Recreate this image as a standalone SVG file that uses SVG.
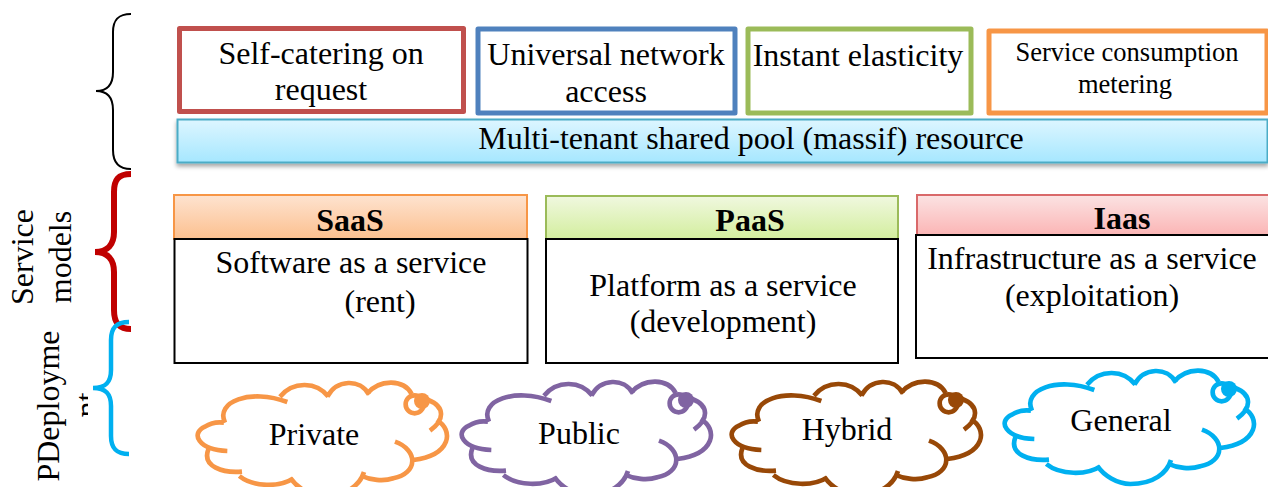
<svg xmlns="http://www.w3.org/2000/svg" width="1268" height="487" viewBox="0 0 1268 487">
<style>
text{font-family:"Liberation Serif","Times New Roman",serif;font-size:32px;fill:#000;text-anchor:middle}
.box{fill:#fff;stroke-width:5;stroke-linejoin:round}
.plain{fill:#fff;stroke:#000;stroke-width:2}
.head{stroke-width:2}
.brace{fill:none;stroke-linecap:butt}
.cloud{fill:none;stroke-width:14;stroke-linecap:butt}
.b{font-weight:bold}
.small{font-size:26.500px}
</style>
<defs>
<linearGradient id="gc" x1="0" y1="0" x2="0" y2="1"><stop offset="0" stop-color="#DDF6FF"/><stop offset="1" stop-color="#A6E7FF"/></linearGradient>
<linearGradient id="go" x1="0" y1="0" x2="0" y2="1"><stop offset="0" stop-color="#FEE3D0"/><stop offset="1" stop-color="#FCC08F"/></linearGradient>
<linearGradient id="gg" x1="0" y1="0" x2="0" y2="1"><stop offset="0" stop-color="#F0F8DF"/><stop offset="1" stop-color="#D3EE9E"/></linearGradient>
<linearGradient id="gr" x1="0" y1="0" x2="0" y2="1"><stop offset="0" stop-color="#FBE3E3"/><stop offset="1" stop-color="#FBB5B5"/></linearGradient>
<filter id="sh" x="-2%" y="-10%" width="104%" height="130%"><feDropShadow dx="0" dy="3" stdDeviation="2" flood-color="#000" flood-opacity=".35"/></filter>
<clipPath id="clipNt"><rect x="0" y="300" width="88" height="187"/></clipPath>
<g id="cloudShape">
<path d="M135 158C105 95 210 55 322 96M300 80C340 32 410 35 445 80M442 80C470 28 540 25 567 74M560 72C600 25 672 28 695 72M745 90C795 110 795 150 750 182M770 150C822 180 815 255 700 270M645 215C715 240 715 310 640 325C610 335 570 330 546 318M552 306C540 345 500 378 430 378C390 378 350 352 332 325M340 325C300 352 220 352 178 318M186 305C130 310 65 290 85 238M142 243C55 240 30 190 75 170C90 160 110 155 132 158"/>
<circle cx="704" cy="103" r="27"/>
<circle cx="726" cy="93" r="24" fill="currentColor" stroke="none"/>
</g>
</defs>
<g id="connectors">
<path class="brace" stroke="#000" stroke-width="2" d="M131 14C118 14 113 20 113 32V72C113 84 108 91 96 91C108 91 113 98 113 110V150C113 162 118 169 131 169"/>
<path class="brace" stroke="#C00000" stroke-width="6" d="M131 174C118 174 114 180 114 192V232C114 244 108 252 95 252C108 252 114 260 114 272V310C114 322 118 329 131 329"/>
<path class="brace" stroke="#00B0F0" stroke-width="4.500" d="M129 322C116 322 111 328 111 340V370C111 382 106 388 93 388C106 388 111 394 111 406V436C111 448 116 454 129 454"/>
</g>
<g id="label-service"><text transform="translate(33 257) rotate(-90)">Service</text><text transform="translate(71 257) rotate(-90)">models</text></g>
<g id="label-deployment"><text transform="translate(59 406) rotate(-90)">PDeployme</text><g clip-path="url(#clipNt)"><text transform="translate(97 405) rotate(-90)">nt</text></g></g>
<g id="self-catering"><rect class="box" x="179.500" y="28.500" width="284" height="83" stroke="#C0504D"/><text x="321" y="64">Self-catering on</text><text x="321" y="100">request</text></g>
<g id="universal"><rect class="box" x="478" y="29" width="257" height="84" stroke="#4F81BD"/><text x="606" y="65">Universal network</text><text x="606" y="102">access</text></g>
<g id="elasticity"><rect class="box" x="748" y="29" width="223" height="84" stroke="#9BBB59"/><text x="858" y="66">Instant elasticity</text></g>
<g id="metering"><rect class="box" x="989" y="31" width="278" height="82" stroke="#F79646"/><text class="small" x="1127" y="61">Service consumption</text><text class="small" x="1125" y="93">metering</text></g>
<g id="pool"><rect x="177.500" y="119.500" width="1090" height="43" fill="url(#gc)" stroke="#4BACC6" stroke-width="2" filter="url(#sh)"/><text x="751" y="149">Multi-tenant shared pool (massif) resource</text></g>
<g id="saas"><rect class="head" x="174" y="195" width="353" height="44" fill="url(#go)" stroke="#F79646"/><text class="b" x="350" y="231">SaaS</text><rect class="plain" x="174.500" y="239" width="353" height="124"/><text x="351" y="273">Software as a service</text><text x="380" y="312">(rent)</text></g>
<g id="paas"><rect class="head" x="546" y="196" width="352" height="43" fill="url(#gg)" stroke="#9BBB59"/><text class="b" x="750" y="231">PaaS</text><rect class="plain" x="546" y="239" width="352" height="124"/><text x="723" y="296">Platform as a service</text><text x="723" y="332">(development)</text></g>
<g id="iaas"><rect class="head" x="917" y="195" width="352" height="40" fill="url(#gr)" stroke="#D9696A"/><text class="b" x="1122" y="229">Iaas</text><rect class="plain" x="916" y="235" width="353" height="123"/><text x="1092" y="269">Infrastructure as a service</text><text x="1092" y="306">(exploitation)</text></g>
<g id="private"><g class="cloud" color="#F79646" stroke="#F79646" transform="translate(180 370) scale(.3333)"><use href="#cloudShape"/></g><text x="314" y="445">Private</text></g>
<g id="public"><g class="cloud" color="#8064A2" stroke="#8064A2" transform="translate(444 369) scale(.3333)"><use href="#cloudShape"/></g><text x="579" y="444">Public</text></g>
<g id="hybrid"><g class="cloud" color="#984807" stroke="#984807" transform="translate(714 369) scale(.3333)"><use href="#cloudShape"/></g><text x="847" y="440">Hybrid</text></g>
<g id="general"><g class="cloud" color="#00B0F0" stroke="#00B0F0" transform="translate(987 358) scale(.3333)"><use href="#cloudShape"/></g><text x="1121" y="431">General</text></g>
</svg>
